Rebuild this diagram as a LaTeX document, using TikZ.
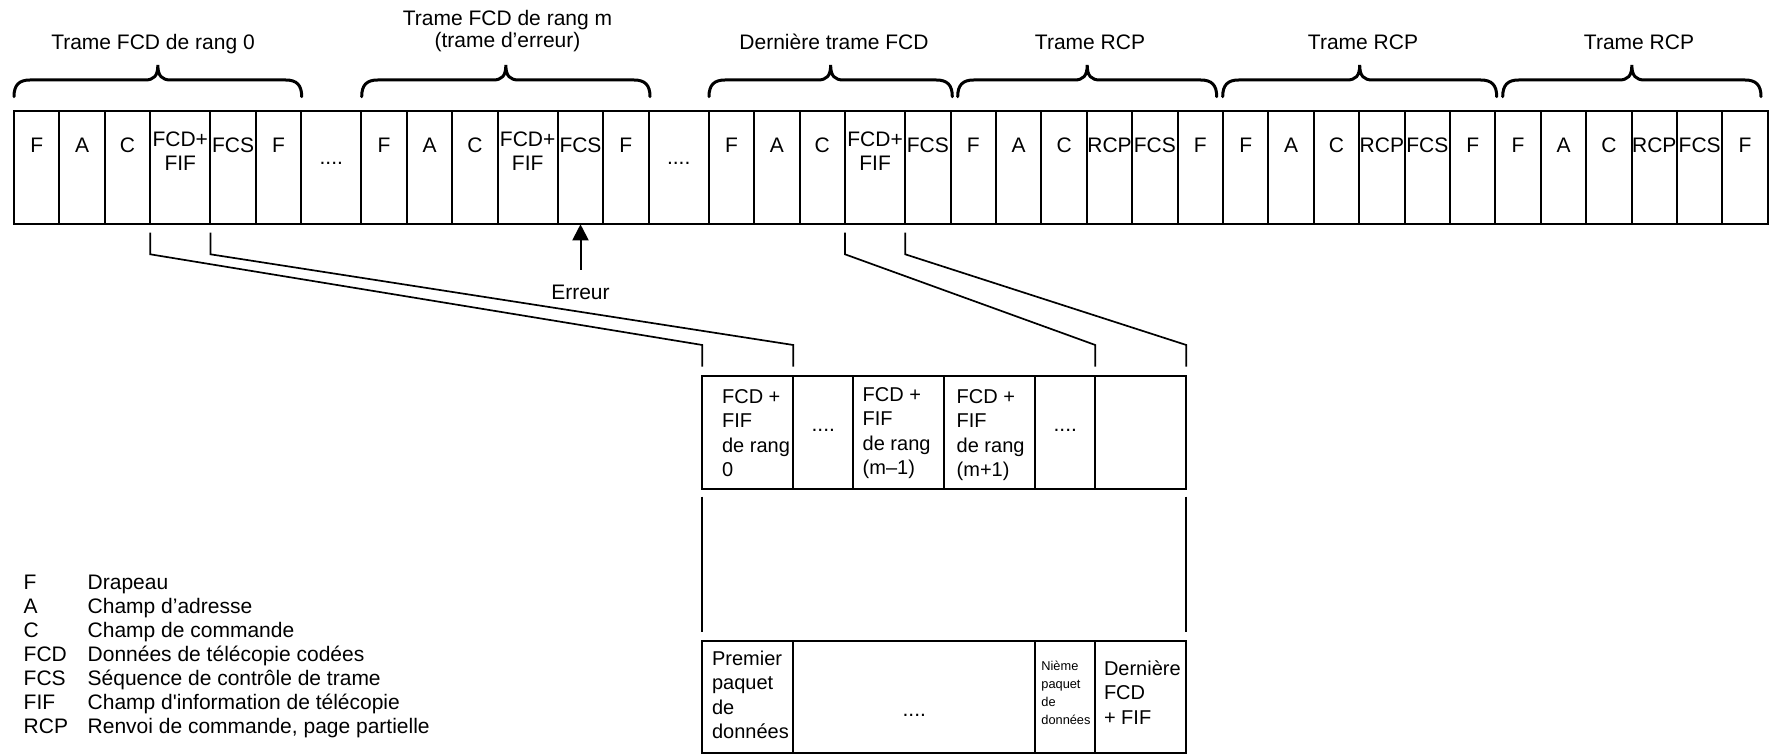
\documentclass[tikz,border=0pt]{standalone}
\usepackage{fontspec}
\setmainfont{Liberation Sans}
\newfontfamily\plainsans{Liberation Sans}
\usetikzlibrary{positioning, arrows.meta}

% points de suspension des cases
\newcommand{\pts}{....}
% accolade au-dessus d'une trame (abscisses en px)
\newcommand{\framebrace}[2]{%
  \draw[line width=1.5pt, line cap=round] (#1,96.7) .. controls (#1,85) and (#1+5,80) .. (#1+16,80)
    -- ({(#1+#2)/2-13},80) .. controls ({(#1+#2)/2-4},80) and ({(#1+#2)/2},76) .. ({(#1+#2)/2},65)
    .. controls ({(#1+#2)/2},76) and ({(#1+#2)/2+4},80) .. ({(#1+#2)/2+13},80)
    -- (#2-16,80) .. controls (#2-5,80) and (#2,85) .. (#2,96.7);}

\begin{document}
\begin{tikzpicture}[x=0.5pt, y=-0.5pt, >={Triangle[length=8pt, width=8pt]},
        font=\fontsize{10.5}{12}\selectfont,
        cell/.style={draw, line width=1pt, minimum height=56.65pt, inner sep=0pt, outer sep=0pt},
        txt/.style={inner sep=0pt, anchor=base, align=center},
        ltxt/.style={inner sep=0pt, anchor=base west, align=left},
        small/.style={font=\fontsize{10}{12.25}\selectfont},
        link/.style={line width=0.85pt}]
    \useasboundingbox (0,0) rectangle (1769,754);

    % Trames
    \coordinate (c0) at (14,167.65);
    \foreach \cn/\cw/\lab/\dy [remember=\cn as \prev (initially c0)] in {
        c1/22.7/F/20.85, c2/22.7/A/20.85, c3/22.7/C/20.85, c4/30.1/{FCD+\\FIF}/30,
        c5/22.7/FCS/20.85, c6/22.7/F/20.85, c7/30.1/\pts/27,
        c8/22.7/F/20.85, c9/22.7/A/20.85, c10/22.7/C/20.85, c11/30.1/{FCD+\\FIF}/30,
        c12/22.7/FCS/20.85, c13/22.7/F/20.85, c14/30.1/\pts/27,
        c15/22.7/F/20.85, c16/22.7/A/20.85, c17/22.7/C/20.85, c18/30.1/{FCD+\\FIF}/30,
        c19/22.7/FCS/20.85,
        c20/22.7/F/20.85, c21/22.7/A/20.85, c22/22.7/C/20.85, c23/22.7/RCP/20.85,
        c24/22.7/FCS/20.85, c25/22.7/F/20.85,
        c26/22.7/F/20.85, c27/22.7/A/20.85, c28/22.7/C/20.85, c29/22.7/RCP/20.85,
        c30/22.7/FCS/20.85, c31/22.7/F/20.85,
        c32/22.7/F/20.85, c33/22.7/A/20.85, c34/22.7/C/20.85, c35/22.7/RCP/20.85,
        c36/22.7/FCS/20.85, c37/22.7/F/20.85} {
        \node (\cn) [cell, minimum width=\cw pt, right=0pt of \prev] {};
        \node (t\cn) [txt] at ([yshift=-\dy pt]\cn.north) {\lab};
    }

    % Accolades et titres
    \framebrace{14}{301.7}
    \framebrace{361.7}{650}
    \framebrace{709}{952.3}
    \framebrace{957.7}{1216.7}
    \framebrace{1222.7}{1496.7}
    \framebrace{1502.7}{1761}
    \node (h1) [txt] at (153,50) {Trame FCD de rang 0};
    \node (h2) [txt, font=\fontsize{10.5}{10.75}\selectfont] at (507.5,47.5) {Trame FCD de rang m\\(trame d’erreur)};
    \node (h3) [txt] at (834,50) {Dernière trame FCD};
    \node (h4) [txt] at (1090,50) {Trame RCP};
    \node (h5) [txt] at (1363,50) {Trame RCP};
    \node (h6) [txt] at (1639,50) {Trame RCP};

    % Erreur
    \node (err) [txt, below=30.3pt of c12] {Erreur};
    \draw[->, line width=1pt] ([yshift=7.5pt]err.north) -- (c12.south);

    % Paquets
    \coordinate (p0) at (702.3,432.35);
    \foreach \cn/\cw [remember=\cn as \prev (initially p0)] in {p1/45.5, p2/30, p3/45.5, p4/45.5, p5/30, p6/45.5}
        \node (\cn) [cell, minimum width=\cw pt, right=0pt of \prev] {};
    \node (tp1) [ltxt, small] at ([xshift=9.7pt, yshift=-50.55pt]p1.north west) {FCD +\\FIF\\de rang\\0};
    \node (tp2) [txt] at ([yshift=-28pt]p2.north) {\pts};
    \node (tp3) [ltxt, small] at ([xshift=4.5pt, yshift=-49.4pt]p3.north west) {FCD +\\FIF\\de rang\\(m–1)};
    \node (tp4) [ltxt, small] at ([xshift=6pt, yshift=-50.55pt]p4.north west) {FCD +\\FIF\\de rang\\(m+1)};
    \node (tp5) [txt] at ([yshift=-28pt]p5.north) {\pts};

    \coordinate (q0) at (702.3,697);
    \foreach \cn/\cw [remember=\cn as \prev (initially q0)] in {q1/45.5, q2/121, q3/30, q4/45.5}
        \node (\cn) [cell, minimum width=\cw pt, minimum height=56pt, right=0pt of \prev] {};
    \node (tq1) [ltxt, small] at ([xshift=4.7pt, yshift=-48.75pt]q1.north west) {Premier\\paquet\\de\\données};
    \node (tq2) [txt] at ([yshift=-37.8pt]q2.north) {\pts};
    \node (tq3) [ltxt, font=\fontsize{6.4}{9}\selectfont] at ([xshift=2.85pt, yshift=-41.85pt]q3.north west) {Nième\\paquet\\de\\données};
    \node (tq4) [ltxt, small] at ([xshift=4.15pt, yshift=-41.5pt]q4.north west) {Dernière\\FCD\\+ FIF};

    % Liaisons
    \draw[link] ([yshift=-4.2pt]c4.south west) -- ++(0,21.6) -- ([yshift=15.35pt]p1.north west) -- ([yshift=4.5pt]p1.north west);
    \draw[link] ([yshift=-4.2pt]c4.south east) -- ++(0,21.6) -- ([yshift=15.35pt]p1.north east) -- ([yshift=4.5pt]p1.north east);
    \draw[link] ([yshift=-4.2pt]c18.south west) -- ++(0,21.6) -- ([yshift=15.35pt]p6.north west) -- ([yshift=4.5pt]p6.north west);
    \draw[link] ([yshift=-4.2pt]c18.south east) -- ++(0,21.6) -- ([yshift=15.35pt]p6.north east) -- ([yshift=4.5pt]p6.north east);
    \draw[line width=1pt] ([yshift=-3.85pt]p1.south west) -- ([yshift=4.65pt]q1.north west);
    \draw[line width=1pt] ([yshift=-3.85pt]p6.south east) -- ([yshift=4.65pt]q4.north east);

    % Légende
    \foreach \ab/\lab [count=\k] in {F/Drapeau, A/Champ d’adresse, C/Champ de commande,
        FCD/Données de télécopie codées, FCS/Séquence de contrôle de trame,
        FIF/{\plainsans Champ d'information de télécopie}, RCP/{Renvoi de commande, page partielle}} {
        \node (ab\k) [ltxt] at (23.3,{565.3+24*\k}) {\ab};
        \node (lg\k) [ltxt] at (87.3,{565.3+24*\k}) {\lab};
    }
\end{tikzpicture}
\end{document}
